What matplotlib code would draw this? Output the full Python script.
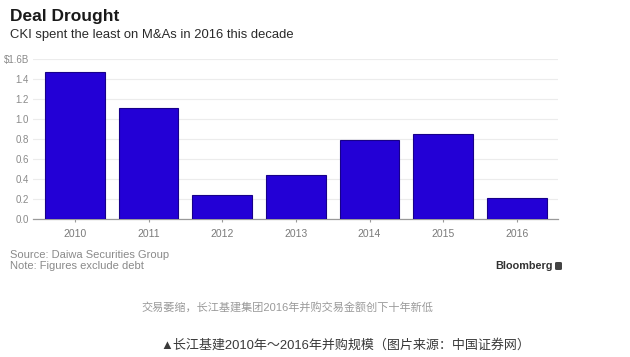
import matplotlib.pyplot as plt
from matplotlib.patches import FancyBboxPatch

# CKI M&A spending per year, $ billions
years = ['2010', '2011', '2012', '2013', '2014', '2015', '2016']
spend = [1.47, 1.11, 0.24, 0.44, 0.79, 0.85, 0.21]
ytick_vals = [0.0, 0.2, 0.4, 0.6, 0.8, 1.0, 1.2, 1.4, 1.6]
ytick_labels = ['0.0', '0.2', '0.4', '0.6', '0.8', '1.0', '1.2', '1.4', '$1.6B']

plt.rcParams['font.family'] = ['Liberation Sans', 'Noto Sans CJK SC', 'DejaVu Sans']

W, H = 630, 357
fig = plt.figure(figsize=(W / 100, H / 100), dpi=100)
fig.patch.set_facecolor('white')

ax = fig.add_axes([33 / W, (H - 219) / H, (558 - 33) / W, 160 / H])
x = range(len(years))
ax.bar(x, spend, width=0.81, color='#2300d6', edgecolor='#17008a', linewidth=0.8, zorder=3)

ax.set_xlim(-0.57, 6.56)
ax.set_ylim(0, 1.6)
ax.set_yticks(ytick_vals)
ax.set_yticklabels(ytick_labels)
ax.set_xticks(list(x))
ax.set_xticklabels(years)
ax.grid(axis='y', color='#ececec', linewidth=0.8, zorder=0)
for s in ['top', 'right', 'left']:
    ax.spines[s].set_visible(False)
ax.spines['bottom'].set_color('#9a9a9a')
ax.spines['bottom'].set_linewidth(0.9)
ax.tick_params(axis='y', length=0, pad=3, labelsize=7, labelcolor='#8a8a8a')
ax.tick_params(axis='x', length=2.5, color='#9a9a9a', pad=5, labelsize=7.5, labelcolor='#7a7a7a')

def fy(py):
    return 1 - py / H

fig.text(10 / W, fy(16), 'Deal Drought', fontsize=12.5, fontweight='bold', color='#1a1a1a', va='center')
fig.text(10 / W, fy(35), 'CKI spent the least on M&As in 2016 this decade', fontsize=9.4, color='#2a2a2a', va='center')
fig.text(10 / W, fy(255), 'Source: Daiwa Securities Group', fontsize=8, color='#8a8a8a', va='center')
fig.text(10 / W, fy(266), 'Note: Figures exclude debt', fontsize=8, color='#8a8a8a', va='center')
fig.text(495 / W, fy(266), 'Bloomberg', fontsize=7.8, fontweight='bold', color='#333333', va='center')
fig.patches.append(FancyBboxPatch((555 / W, fy(270)), 7 / W, 8 / H, boxstyle='round,pad=0,rounding_size=0.003',
                                  transform=fig.transFigure, facecolor='#444444', edgecolor='none'))
fig.text(287 / W, fy(307), '交易萎缩，长江基建集团2016年并购交易金额创下十年新低', fontsize=8, color='#9a9a9a', ha='center', va='center')
fig.text(345 / W, fy(345), '▲长江基建2010年～2016年并购规模（图片来源：中国证券网）', fontsize=9.4, color='#3a3a3a', ha='center', va='center')

fig.savefig('out.png', dpi=100, facecolor='white')
